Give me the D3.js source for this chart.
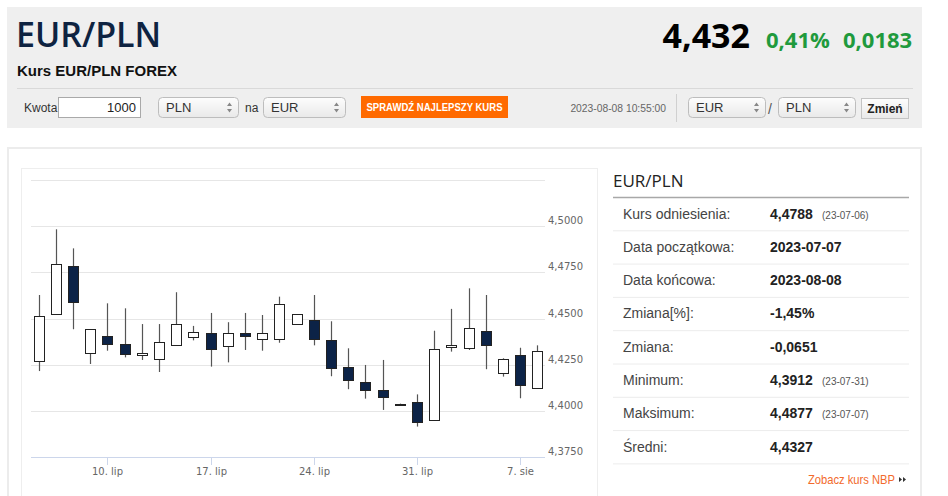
<!DOCTYPE html>
<html>
<head>
<meta charset="utf-8">
<script src="https://cdn.jsdelivr.net/npm/d3@7"></script>
<style>
  html, body { margin: 0; padding: 0; background: #fff; }
  svg { display: block; }
  text { font-family: Arial, "Liberation Sans", sans-serif; }
</style>
</head>
<body>
<svg id="page" width="948" height="496"></svg>
<script>
// candles, one per trading day (weekend Saturdays not traded)
const dates = ['2023-07-05', '2023-07-06', '2023-07-07', '2023-07-09', '2023-07-10', '2023-07-11',
    '2023-07-12', '2023-07-13', '2023-07-14', '2023-07-16', '2023-07-17', '2023-07-18',
    '2023-07-19', '2023-07-20', '2023-07-21', '2023-07-23', '2023-07-24', '2023-07-25',
    '2023-07-26', '2023-07-27', '2023-07-28', '2023-07-30', '2023-07-31', '2023-08-01',
    '2023-08-02', '2023-08-03', '2023-08-04', '2023-08-06', '2023-08-07', '2023-08-08'];
const opens = [4.4270, 4.4524, 4.4784, 4.4315, 4.4407, 4.4362, 4.4301, 4.4280, 4.4357, 4.4402,
    4.4424, 4.4352, 4.4420, 4.4388, 4.4393, 4.4469, 4.4494, 4.4382, 4.4240, 4.4157,
    4.4112, 4.4038, 4.4049, 4.3952, 4.4344, 4.4341, 4.4433, 4.4206, 4.4301, 4.4125];
const highs = [4.4627, 4.4982, 4.4879, 4.4443, 4.4582, 4.4555, 4.4470, 4.4470, 4.4642, 4.4460,
    4.4530, 4.4480, 4.4530, 4.4519, 4.4618, 4.4523, 4.4627, 4.4485, 4.4339, 4.4249,
    4.4276, 4.4040, 4.4090, 4.4434, 4.4552, 4.4663, 4.4627, 4.4285, 4.4342, 4.4355];
const lows = [4.4216, 4.4524, 4.4442, 4.4254, 4.4326, 4.4290, 4.4276, 4.4211, 4.4357, 4.4382,
    4.4240, 4.4263, 4.4330, 4.4326, 4.4369, 4.4469, 4.4355, 4.4188, 4.4118, 4.4067,
    4.4006, 4.4032, 4.3916, 4.3946, 4.4321, 4.4330, 4.4226, 4.4186, 4.4069, 4.4125];
const closes = [4.4515, 4.4793, 4.4591, 4.4443, 4.4366, 4.4307, 4.4314, 4.4373, 4.4469, 4.4427,
    4.4337, 4.4424, 4.4406, 4.4420, 4.4580, 4.4523, 4.4391, 4.4229, 4.4170, 4.4115,
    4.4074, 4.4034, 4.3941, 4.4334, 4.4357, 4.4449, 4.4357, 4.4281, 4.4137, 4.4323];

const xTickDates = ['2023-07-10', '2023-07-17', '2023-07-24', '2023-07-31', '2023-08-07'];
const xTickLabels = ['10. lip', '17. lip', '24. lip', '31. lip', '7. sie'];
const yGridValues = [4.375, 4.4, 4.425, 4.45, 4.475, 4.5, 4.525];
const yLabelValues = [4.375, 4.4, 4.425, 4.45, 4.475, 4.5];

const statLabels = ['Kurs odniesienia:', 'Data początkowa:', 'Data końcowa:', 'Zmiana[%]:',
    'Zmiana:', 'Minimum:', 'Maksimum:', 'Średni:'];
const statValues = ['4,4788', '2023-07-07', '2023-08-08', '-1,45%', '-0,0651', '4,3912', '4,4877', '4,4327'];
const statDates = ['(23-07-06)', '', '', '', '', '(23-07-31)', '(23-07-07)', ''];

const candles = dates.map((d, i) => ({date: d, open: opens[i], high: highs[i], low: lows[i], close: closes[i]}));

const svg = d3.select('#page');
const defs = svg.append('defs');

let grad = defs.append('linearGradient').attr('id', 'selGrad').attr('x1', 0).attr('y1', 0).attr('x2', 0).attr('y2', 1);
grad.append('stop').attr('offset', '0%').attr('stop-color', '#fdfdfd');
grad.append('stop').attr('offset', '100%').attr('stop-color', '#e9e9e9');

// ---- header box
svg.append('rect').attr('x', 7).attr('y', 7).attr('width', 915).attr('height', 121).attr('fill', '#efefef');

svg.append('text').attr('x', 16).attr('y', 47)
    .style('font-family', '"Open Sans", sans-serif').style('font-weight', 600)
    .style('font-size', '34px').attr('fill', '#0e2341').text('EUR/PLN');

svg.append('text').attr('x', 17).attr('y', 76)
    .style('font-weight', 'bold').style('font-size', '15px').attr('fill', '#111')
    .text('Kurs EUR/PLN FOREX');

let quote = svg.append('text').attr('text-anchor', 'end').attr('y', 48)
    .style('font-family', '"Open Sans", sans-serif').style('font-weight', 'bold');
quote.append('tspan').attr('x', 750).style('font-size', '34px').attr('fill', '#000').text('4,432');
svg.append('text').attr('x', 766).attr('y', 48)
    .style('font-family', '"Open Sans", sans-serif').style('font-weight', 'bold')
    .style('font-size', '22px').attr('fill', '#1f9a3d').text('0,41%');
svg.append('text').attr('x', 843).attr('y', 48)
    .style('font-family', '"Open Sans", sans-serif').style('font-weight', 'bold')
    .style('font-size', '22px').attr('fill', '#1f9a3d').text('0,0183');

svg.append('line').attr('x1', 17).attr('x2', 913).attr('y1', 88.5).attr('y2', 88.5)
    .attr('stroke', '#d9d9d9');

// form row
svg.append('text').attr('x', 24).attr('y', 112).style('font-size', '12px').attr('fill', '#333').text('Kwota');
svg.append('rect').attr('x', 58.5).attr('y', 97.5).attr('width', 82).attr('height', 20)
    .attr('fill', '#fff').attr('stroke', '#a9a9a9');
svg.append('text').attr('x', 136).attr('y', 112).attr('text-anchor', 'end')
    .style('font-size', '13px').attr('fill', '#222').text('1000');

function selectBox(x, w, label) {
    let g = svg.append('g').attr('transform', 'translate(' + x + ',97)');
    g.append('rect').attr('x', 0.5).attr('y', 0.5).attr('width', w).attr('height', 20).attr('rx', 4)
        .attr('fill', 'url(#selGrad)').attr('stroke', '#bdbdbd');
    g.append('text').attr('x', 8).attr('y', 15).style('font-size', '13px').attr('fill', '#333').text(label);
    g.append('path').attr('d', 'M' + (w - 11) + ',9 l2.5,-3.5 l2.5,3.5 Z M' + (w - 11) + ',12 l2.5,3.5 l2.5,-3.5 Z')
        .attr('fill', '#888');
}
selectBox(158, 80, 'PLN');
svg.append('text').attr('x', 245).attr('y', 112).style('font-size', '12px').attr('fill', '#333').text('na');
selectBox(263, 82, 'EUR');

svg.append('rect').attr('x', 361).attr('y', 96).attr('width', 147).attr('height', 22).attr('fill', '#ff6a00');
svg.append('text').attr('x', 434.5).attr('y', 111).attr('text-anchor', 'middle')
    .attr('textLength', 136).attr('lengthAdjust', 'spacingAndGlyphs')
    .style('font-weight', 'bold').style('font-size', '10px').attr('fill', '#fff')
    .text('SPRAWDŹ NAJLEPSZY KURS');

svg.append('text').attr('x', 666).attr('y', 112).attr('text-anchor', 'end')
    .style('font-size', '10.3px').attr('fill', '#666').text('2023-08-08 10:55:00');
svg.append('line').attr('x1', 676.5).attr('x2', 676.5).attr('y1', 94).attr('y2', 122).attr('stroke', '#d0d0d0');
selectBox(688, 77, 'EUR');
svg.append('text').attr('x', 768).attr('y', 114).style('font-size', '14px').attr('fill', '#555').text('/');
selectBox(778, 77, 'PLN');
svg.append('rect').attr('x', 861.5).attr('y', 98.5).attr('width', 47).attr('height', 20)
    .attr('fill', 'url(#selGrad)').attr('stroke', '#c4c4c4');
svg.append('text').attr('x', 885).attr('y', 113).attr('text-anchor', 'middle')
    .style('font-weight', 'bold').style('font-size', '12px').attr('fill', '#222').text('Zmień');

// ---- card
svg.append('rect').attr('x', 8).attr('y', 148).attr('width', 913).attr('height', 400)
    .attr('fill', '#fff').attr('stroke', '#ececec').attr('stroke-width', 2);
svg.append('rect').attr('x', 21.5).attr('y', 168.5).attr('width', 576).attr('height', 400)
    .attr('fill', '#fff').attr('stroke', '#eeeeee');

// ---- candlestick chart
let x = d3.scalePoint().domain(dates).range([31, 545]).padding(0.45),
    y = d3.scaleLinear().domain([4.375, 4.525]).range([457.3, 179.7]);

let fmt = v => d3.format('.4f')(v).replace('.', ',');

let chart = svg.append('g');

chart.selectAll('.grid')
    .data(yGridValues)
    .enter()
    .append('line')
    .attr('class', 'grid')
    .attr('x1', 31).attr('x2', 545)
    .attr('y1', d => Math.round(y(d)) + 0.5)
    .attr('y2', d => Math.round(y(d)) + 0.5)
    .attr('stroke', '#e6e6e6');

chart.selectAll('.ylabel')
    .data(yLabelValues)
    .enter()
    .append('text')
    .attr('class', 'ylabel')
    .attr('x', 548)
    .attr('y', d => Math.round(y(d)) - 2)
    .style('font-family', '"DejaVu Sans", sans-serif')
    .style('font-size', '10px')
    .attr('fill', '#666')
    .text(fmt);

// x axis
chart.append('line').attr('x1', 31).attr('x2', 545).attr('y1', 457.5).attr('y2', 457.5).attr('stroke', '#ccd6eb');
let xt = chart.selectAll('.xtick')
    .data(xTickDates)
    .enter()
    .append('g')
    .attr('class', 'xtick')
    .attr('transform', d => 'translate(' + (Math.round(x(d)) + 0.5) + ',0)');
xt.append('line').attr('y1', 457).attr('y2', 465).attr('stroke', '#ccd6eb');
xt.append('text')
    .attr('y', 475)
    .attr('text-anchor', 'middle')
    .style('font-family', '"DejaVu Sans", sans-serif')
    .style('font-size', '10px')
    .attr('fill', '#666')
    .text((d, i) => xTickLabels[i]);

let c = chart.selectAll('.candle')
    .data(candles)
    .enter()
    .append('g')
    .attr('class', 'candle')
    .attr('transform', d => 'translate(' + Math.round(x(d.date)) + ',0)');

c.append('line')
    .attr('x1', 0.5).attr('x2', 0.5)
    .attr('y1', d => y(d.high))
    .attr('y2', d => y(d.low))
    .attr('stroke', '#555')
    .attr('stroke-width', 1.2);

c.append('rect')
    .attr('x', -4.5)
    .attr('width', 10)
    .attr('y', d => Math.round(y(Math.max(d.open, d.close))) + 0.5)
    .attr('height', d => Math.max(1, Math.round(Math.abs(y(d.open) - y(d.close)))))
    .attr('fill', d => d.close >= d.open ? '#fff' : '#0c2347')
    .attr('stroke', '#222');

// ---- stats panel
svg.append('text').attr('x', 613).attr('y', 187)
    .style('font-family', '"Open Sans", sans-serif').style('font-size', '17px')
    .attr('fill', '#222').text('EUR/PLN');
svg.append('line').attr('x1', 613).attr('x2', 909).attr('y1', 197.5).attr('y2', 197.5)
    .attr('stroke', '#a8a8a8').attr('stroke-width', 1.5);

let rowTop = 198, rowH = 33.3;
let rows = svg.selectAll('.stat')
    .data(statLabels)
    .enter()
    .append('g')
    .attr('class', 'stat')
    .attr('transform', (d, i) => 'translate(0,' + (rowTop + i * rowH) + ')');

rows.append('text').attr('x', 623).attr('y', 20.5)
    .style('font-size', '14px').attr('fill', '#444').text(d => d);
rows.append('text').attr('x', 770).attr('y', 20.5)
    .style('font-size', '14px').style('font-weight', 'bold').attr('fill', '#222')
    .text((d, i) => statValues[i]);
rows.append('text').attr('x', 822).attr('y', 20.5)
    .style('font-size', '10px').attr('fill', '#555')
    .text((d, i) => statDates[i]);
rows.append('line').attr('x1', 613).attr('x2', 909)
    .attr('y1', rowH - 0.5).attr('y2', rowH - 0.5)
    .attr('stroke', '#ececec');

svg.append('text').attr('x', 808).attr('y', 484)
    .attr('textLength', 87).attr('lengthAdjust', 'spacingAndGlyphs')
    .style('font-size', '13px').attr('fill', '#f26a2c').text('Zobacz kurs NBP');
svg.append('path').attr('d', 'M899,477 l3,2.5 l-3,2.5 Z M903,477 l3,2.5 l-3,2.5 Z').attr('fill', '#333');
</script>
</body>
</html>
